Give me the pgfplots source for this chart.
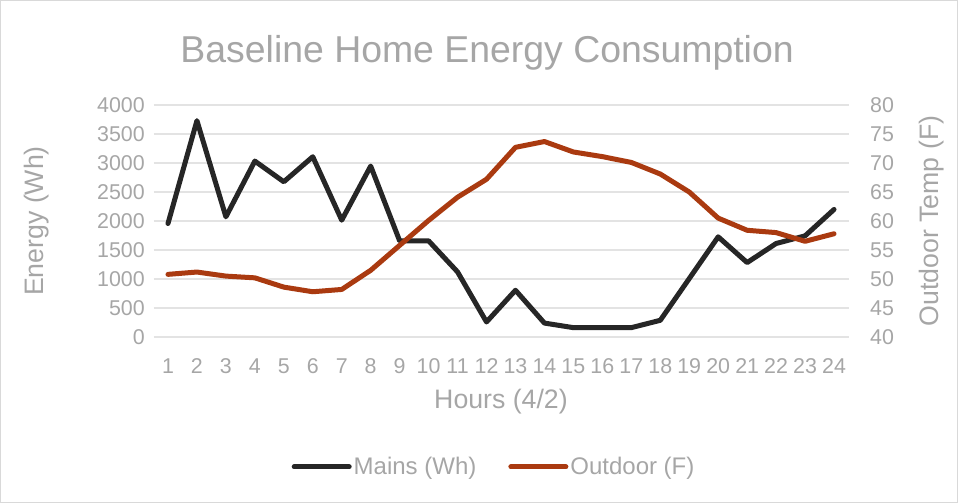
\documentclass[border=0pt]{standalone}
\usepackage{pgfplots}
\pgfplotsset{compat=1.18}
\usepackage{fontspec}
\setmainfont{Liberation Sans}
\definecolor{txt}{HTML}{A6A6A6}
\definecolor{gridc}{HTML}{E3E3E3}
\definecolor{framec}{HTML}{D9D9D9}
\definecolor{mains}{HTML}{262626}
\definecolor{outd}{HTML}{AA3A10}
\tikzset{lab/.style={font=\fontsize{26.7}{30}\selectfont, text=txt}}
\pgfplotstableread{
h mains temp
1 1957 50.8
2 3730 51.2
3 2072 50.5
4 3033 50.2
5 2676 48.6
6 3108 47.8
7 2014 48.2
8 2947 51.5
9 1658 55.8
10 1658 60.1
11 1122 64.1
12 259 67.2
13 806 72.7
14 240 73.7
15 161 71.9
16 161 71.1
17 161 70.1
18 288 68.1
19 1007 65.0
20 1727 60.5
21 1283 58.4
22 1612 58.0
23 1744 56.5
24 2199 57.8
}\datatable
\pgfplotsset{
  common/.style={
    at={(153.5pt,166pt)}, anchor=south west, scale only axis,
    width=695pt, height=232pt,
    xmin=0.5, xmax=24.5,
    axis line style={draw=none}, tick style={draw=none},
    /pgf/number format/assume math mode=true,
    /pgf/number format/1000 sep={},
    ticklabel style={font=\fontsize{21.4}{24}\selectfont, text=txt},
  },
}
\begin{document}
\begin{tikzpicture}[x=1pt,y=1pt]
\path[draw=framec, line width=1pt] (0.5,0.5) rectangle (957.5,502.5);
\begin{axis}[common,
  ymin=0, ymax=4000, ytick={0,500,...,4000},
  xtick={1,...,24},
  ymajorgrids, grid style={gridc, line width=1.2pt},
  yticklabel style={anchor=east, inner sep=0pt, xshift=-8.5pt},
  xticklabel style={anchor=base, inner sep=0pt, yshift=-37pt},
  xlabel={Hours (4/2)}, ylabel={Energy (Wh)},
  every axis x label/.style={at={(axis description cs:0.5,-0.280)}, anchor=center, lab},
  every axis y label/.style={at={(axis description cs:-0.168,0.5)}, rotate=90, anchor=center, lab},
  title={Baseline Home Energy Consumption},
  every axis title/.style={at={(axis description cs:0.48,1.225)}, anchor=center, font=\fontsize{37.4}{40}\selectfont, text=txt},
]
\addplot[mains, line width=5pt, line join=round, line cap=round] table[x=h, y=mains] {\datatable};
\end{axis}
\begin{axis}[common,
  ymin=40, ymax=80, ytick={40,45,...,80},
  axis x line=none, axis y line*=right,
  yticklabel style={anchor=west, inner sep=0pt, xshift=21.5pt},
  ylabel={Outdoor Temp (F)},
  every axis y label/.style={at={(axis description cs:1.12,0.5)}, rotate=90, anchor=center, lab},
  legend columns=2,
  legend style={at={(axis description cs:0.49,-0.560)}, anchor=center, draw=none, fill=none,
    font=\fontsize{24}{28}\selectfont, text=txt,
    /tikz/every even column/.append style={column sep=30pt}},
  legend image code/.code={\draw[#1, line cap=round] (0pt,0pt) -- (55pt,0pt);},
]
\addlegendimage{mains, line width=5pt}
\addlegendentry{Mains (Wh)}
\addplot[outd, line width=5pt, line join=round, line cap=round] table[x=h, y=temp] {\datatable};
\addlegendentry{Outdoor (F)}
\end{axis}
\end{tikzpicture}
\end{document}
